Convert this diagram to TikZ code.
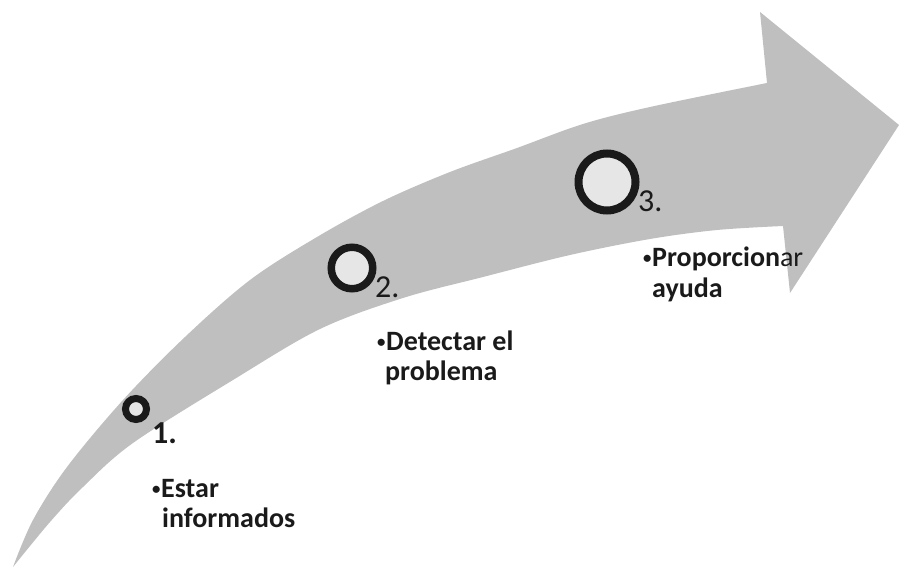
\documentclass[tikz,border=0pt]{standalone}
\usepackage{fontspec}
\setmainfont{Carlito}
\definecolor{arrowgray}{HTML}{BFBFBF}
\definecolor{ringfill}{HTML}{E6E6E6}
\definecolor{inkblack}{HTML}{1A1A1A}
\newcommand{\bul}{\makebox[9pt][l]{\raisebox{3pt}{\scalebox{0.6}{\textbullet}}}}
\begin{document}
\begin{tikzpicture}[x=1pt, y=-1pt,
    ring/.style={circle, draw=inkblack, fill=ringfill, inner sep=0pt},
    stepnum/.style={anchor=base west, inner sep=0pt, text=inkblack, font=\fontsize{32}{32}\selectfont},
    steptext/.style={anchor=base west, inner sep=0pt, align=left, text=inkblack, font=\bfseries\fontsize{28}{30}\selectfont}]
    \useasboundingbox (0,0) rectangle (899,569);

    % curved arrow
    \fill[arrowgray] plot[smooth, tension=0.55] coordinates {(13,567) (33,520) (67,467) (123,400) (185,337) (250,280) (317,237) (383,201) (450,172) (517,148) (583,124) (650,107) (767,83)}
        -- (760,12) -- (899,125) -- (790,293) -- (783,226)
        -- plot[smooth, tension=0.55] coordinates {(783,226) (717,230) (650,239) (570,255) (483,277) (403,298) (320,329) (233,380) (133,443) (83,487) (50,522) (13,567)}
        -- cycle;

    % rings
    \foreach \i/\x/\y/\d/\w in {1/136/409/21/7, 2/352/268/41.5/7.5, 3/607/182/57/8} {
        \node[ring, minimum size=\d pt, line width=\w pt] (c\i) at (\x,\y) {};
    }

    % numbers
    \node[stepnum, font=\bfseries\fontsize{32}{32}\selectfont] (n1) at (152,443) {1.};
    \node[stepnum] (n2) at (375,297) {2.};
    \node[stepnum] (n3) at (638,212) {3.};

    % texts (base = last line)
    \node[steptext] (t1) at (152,527) {\bul Estar\\\hspace{10pt}informados};
    \node[steptext] (t2) at (377,380) {\bul Detectar el\\\hspace{8pt}problema};
    \node[steptext] (t3) at (643,297) {\bul Proporcion{\mdseries ar}\\\hspace{9pt}ayuda};
\end{tikzpicture}
\end{document}
